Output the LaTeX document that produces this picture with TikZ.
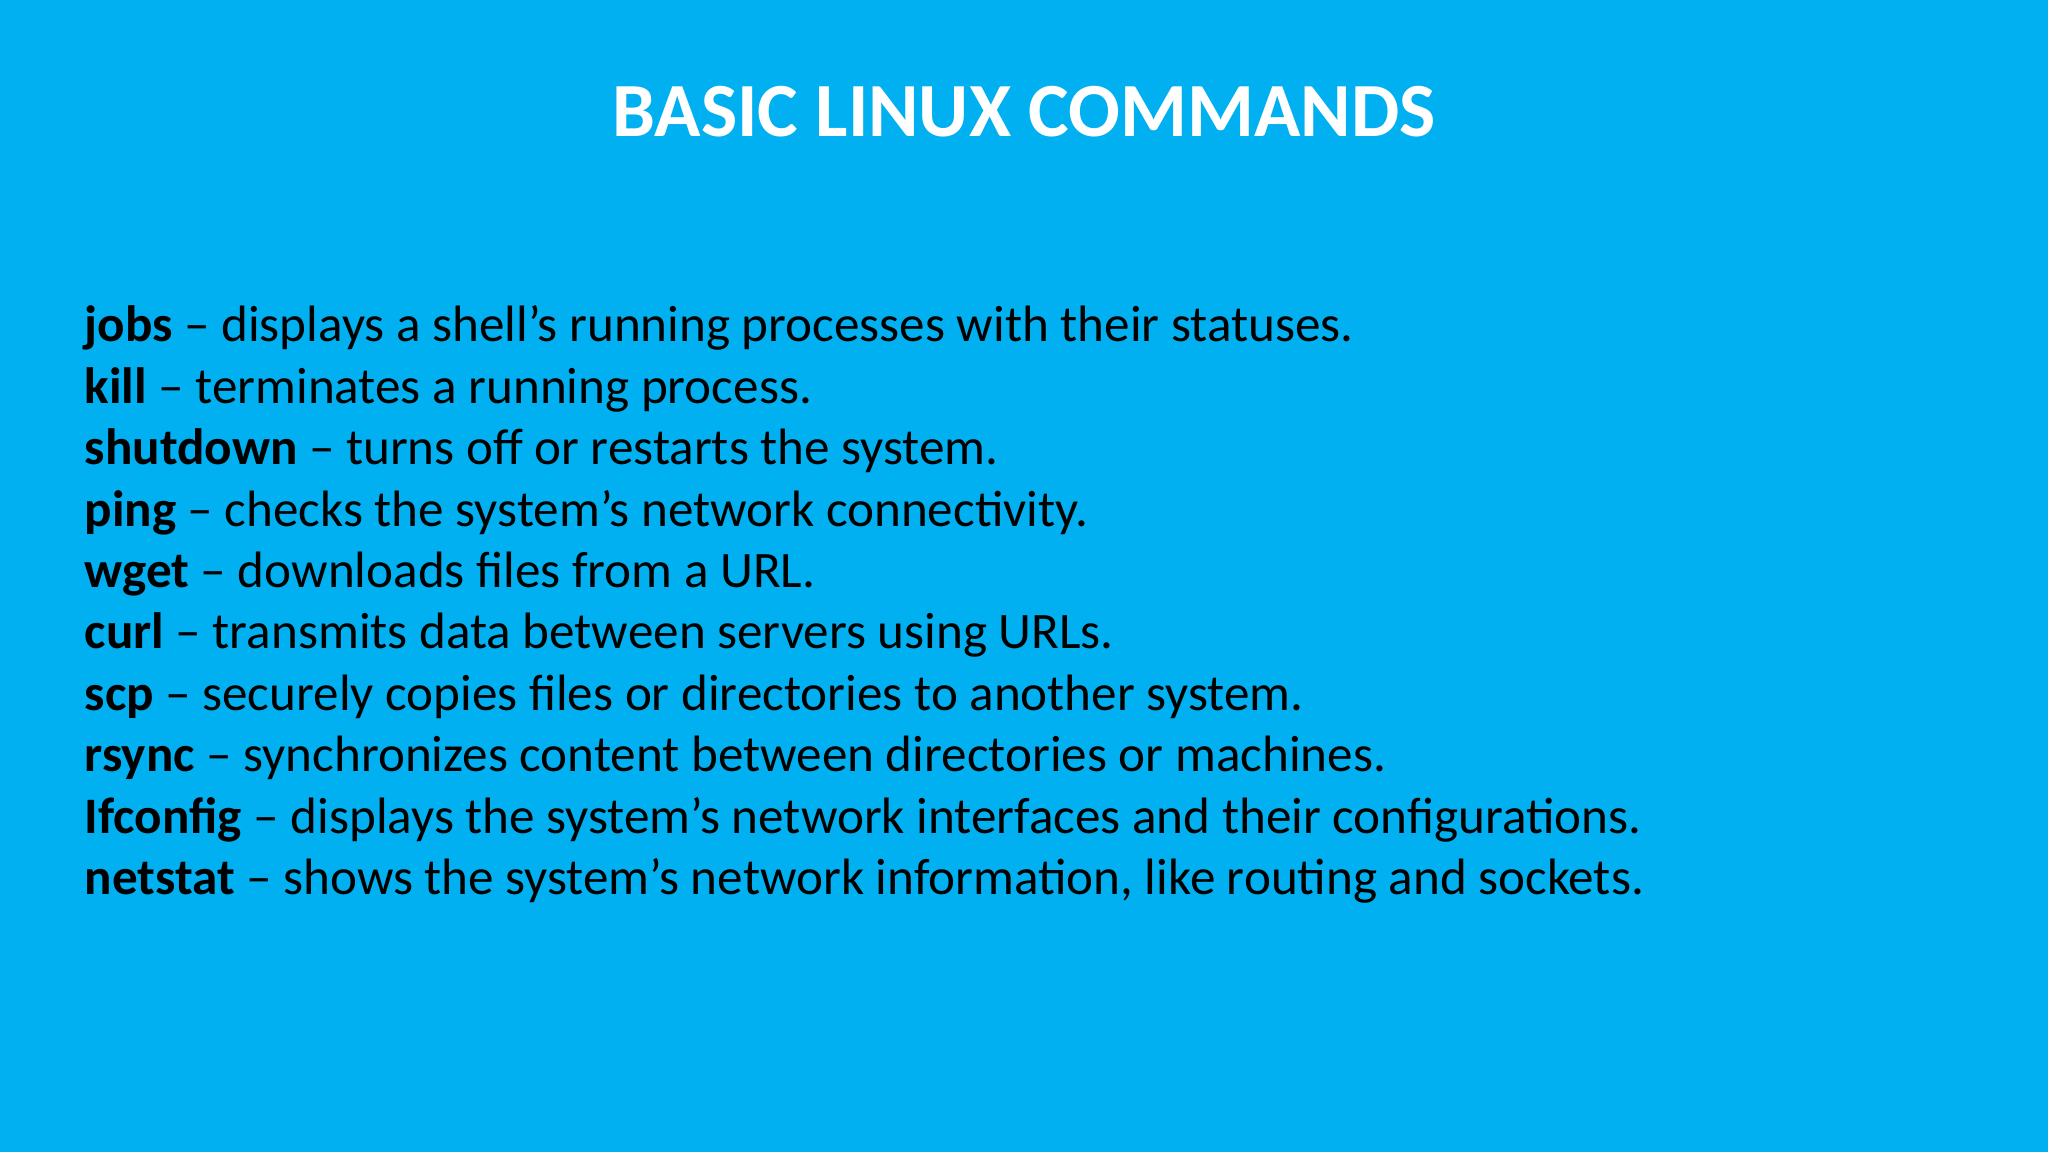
\documentclass[tikz,border=0pt]{standalone}
\usepackage{fontspec}
\setmainfont{Carlito}
\definecolor{bg}{HTML}{00B0F0}
\begin{document}
\begin{tikzpicture}
\tikzset{title/.style={text=white,font=\fontsize{21.8}{26}\selectfont\bfseries,anchor=base},
body/.style={text=black,font=\fontsize{14.55}{17.4}\selectfont,anchor=base west,inner sep=0pt}}
\fill[bg] (0,0) rectangle (20.48,11.52);
\useasboundingbox (0,0) rectangle (20.48,11.52);
\node[title] (t) at (10.24,10.15) {BASIC LINUX COMMANDS};
\foreach \i/\c/\d in {
0/jobs/displays a shell’s running processes with their statuses.,
1/kill/terminates a running process.,
2/shutdown/turns off or restarts the system.,
3/ping/checks the system’s network connectivity.,
4/wget/downloads files from a URL.,
5/curl/transmits data between servers using URLs.,
6/scp/securely copies files or directories to another system.,
7/rsync/synchronizes content between directories or machines.,
8/Ifconfig/displays the system’s network interfaces and their configurations.,
9/netstat/shows the system’s network information{,} like routing and sockets.}
  \node[body] (l\i) at (0.84,8.10-0.614*\i) {\textbf{\c} – \d};
\end{tikzpicture}
\end{document}
